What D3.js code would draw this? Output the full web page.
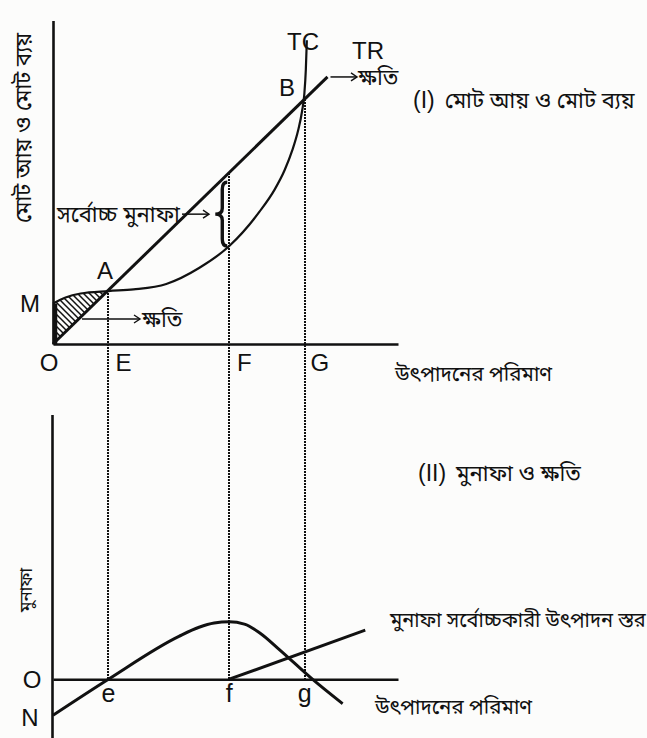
<!DOCTYPE html>
<html>
<head>
<meta charset="utf-8">
<script src="https://cdn.jsdelivr.net/npm/d3@7/dist/d3.min.js"></script>
<style>
  html, body { margin: 0; padding: 0; background: #fcfcfb; }
  svg { display: block; }
  .lat { font-family: "Liberation Sans Narrow", "Arial Narrow", "Liberation Sans", Arial, sans-serif; fill: #111; }
  .bn  { font-family: "Noto Sans Bengali", "Lohit Bengali", "Noto Sans", sans-serif; fill: #111; }
</style>
</head>
<body>
<svg id="chart" width="647" height="738"></svg>
<script>
// Output quantity axis: reference points E (break-even), F (max profit), G (second break-even)
const markLabelsTop = ["E", "F", "G"];
const markLabelsBottom = ["e", "f", "g"];
const markQuantities = [22, 70, 100];

// Total revenue: straight line from the origin
const trQuantity = [0, 109];
const trValue = [0, 109];

// Total cost: starts at fixed cost M, flattens, then rises steeply
const tcQuantity = [0, 5, 11, 22, 32, 45, 58, 70, 82, 88, 92, 95, 97.3, 98.9, 99.8, 100.4, 100.8];
const tcValue = [16.5, 19, 20.6, 21.6, 22.3, 24.5, 31, 40, 54, 63, 71, 79, 87, 95, 102, 112, 124];

// Profit curve (lower panel)
const profitQuantity = [0, 22, 50, 58, 64, 70, 76, 82, 90, 103, 115];
const profitValue = [-14.7, 0, 17.5, 21.2, 22.9, 23.4, 22.5, 19, 12, 0, -10];

// Rising line from f in the lower panel
const riseQuantity = [70, 124];
const riseValue = [0, 20];

const svg = d3.select("#chart");

const x = d3.scaleLinear().domain([0, 137]).range([53, 398]);
const yTop = d3.scaleLinear().domain([0, 132]).range([344, 20.6]);
const yBot = d3.scaleLinear().domain([-24, 108]).range([738, 414.6]);

const ink = "#111";

// Patterns and markers
const defs = svg.append("defs");
const pat = defs.append("pattern")
  .attr("id", "hatch").attr("patternUnits", "userSpaceOnUse")
  .attr("width", 6).attr("height", 6);
pat.append("path")
  .attr("d", "M0,0 L6,6 M-1,5 L1,7 M5,-1 L7,1")
  .attr("stroke", ink).attr("stroke-width", 1.5);

defs.append("marker")
  .attr("id", "arrow").attr("viewBox", "-1 -5 9 10")
  .attr("refX", 6).attr("refY", 0)
  .attr("markerWidth", 9).attr("markerHeight", 10)
  .attr("markerUnits", "userSpaceOnUse")
  .attr("orient", "auto")
  .append("path").attr("d", "M0,-4 L6,0 L0,4")
  .attr("fill", "none").attr("stroke", ink).attr("stroke-width", 1.4);

// ---------- Upper panel ----------
const upper = svg.append("g");

// Shaded loss region between TC and TR up to A
const lossQ = tcQuantity.filter(q => q <= markQuantities[0]);
const lossData = lossQ.map((q, i) => ({ q, tc: tcValue[i], tr: q }));
upper.append("path")
  .datum(lossData)
  .attr("d", d3.area().x(d => x(d.q)).y0(d => yTop(d.tr)).y1(d => yTop(d.tc)).curve(d3.curveMonotoneX))
  .attr("fill", "url(#hatch)").attr("stroke", "none");

// Dotted guides from the curves down to the lower axis
const guideTops = [yTop(markQuantities[0]), yTop(markQuantities[1]), yTop(markQuantities[2])];
markQuantities.forEach((q, i) => {
  const gx = Math.round(x(q));
  svg.append("line")
    .attr("x1", gx).attr("x2", gx)
    .attr("y1", guideTops[i]).attr("y2", yBot(0))
    .attr("stroke", ink).attr("stroke-width", 2)
    .attr("shape-rendering", "crispEdges")
    .attr("stroke-dasharray", "2,1");
});

// Axes
const axTopX = upper.append("g").attr("transform", `translate(0,${yTop(0)})`)
  .call(d3.axisBottom(x).tickValues([]).tickSizeOuter(0));
const axTopY = upper.append("g").attr("transform", `translate(${x(0)},0)`)
  .call(d3.axisLeft(yTop).tickValues([]).tickSizeOuter(0));
[axTopX, axTopY].forEach(g => g.select(".domain").attr("stroke", ink).attr("stroke-width", 2.6));

// TR line
upper.append("path")
  .datum(trQuantity.map((q, i) => [q, trValue[i]]))
  .attr("d", d3.line().x(d => x(d[0])).y(d => yTop(d[1])))
  .attr("fill", "none").attr("stroke", ink).attr("stroke-width", 3);

// TC curve
upper.append("path")
  .datum(tcQuantity.map((q, i) => [q, tcValue[i]]))
  .attr("d", d3.line().x(d => x(d[0])).y(d => yTop(d[1])).curve(d3.curveMonotoneX))
  .attr("fill", "none").attr("stroke", ink).attr("stroke-width", 2.2);

// Loss region edge on the vertical axis (O to M)
upper.append("line")
  .attr("x1", x(0) + 2).attr("x2", x(0) + 2)
  .attr("y1", yTop(0)).attr("y2", yTop(tcValue[0]))
  .attr("stroke", ink).attr("stroke-width", 4.5);

// Brace marking maximum profit at F
const bx = x(markQuantities[1]) - 7;
const b1 = yTop(66), b2 = yTop(tcValue[7]), bm = (b1 + b2) / 2;
upper.append("path")
  .attr("d", `M${bx + 5},${b1} Q${bx},${b1} ${bx},${b1 + 7} L${bx},${bm - 6} Q${bx},${bm} ${bx - 7},${bm} Q${bx},${bm} ${bx},${bm + 6} L${bx},${b2 - 7} Q${bx},${b2} ${bx + 5},${b2}`)
  .attr("fill", "none").attr("stroke", ink).attr("stroke-width", 3.4);

// Arrows
function arrow(g, x1, y1, x2, y2) {
  g.append("line").attr("x1", x1).attr("y1", y1).attr("x2", x2).attr("y2", y2)
    .attr("stroke", ink).attr("stroke-width", 1.5).attr("marker-end", "url(#arrow)");
}
arrow(upper, 182, bm, 209, bm);
arrow(upper, 82, 319, 140, 319);
arrow(upper, x(trQuantity[1]) + 3, yTop(trValue[1]), 357, yTop(trValue[1]));

// Letters
const letters = [
  ["O", 49, 371], ["M", 30, 312], ["A", 105, 279], ["B", 287, 96],
  ["TC", 303, 50], ["TR", 368, 59]
];
letters.forEach(([t, px, py]) => {
  upper.append("text").attr("class", "lat").attr("x", px).attr("y", py)
    .attr("text-anchor", "middle").attr("font-size", 24).text(t);
});
markLabelsTop.forEach((t, i) => {
  upper.append("text").attr("class", "lat")
    .attr("x", x(markQuantities[i]) + 15).attr("y", 371)
    .attr("text-anchor", "middle").attr("font-size", 24).text(t);
});

// Bengali text, upper panel
upper.append("text").attr("class", "bn").attr("font-size", 22)
  .attr("transform", "translate(31,128) rotate(-90)").attr("text-anchor", "middle")
  .text("মোট আয় ও মোট ব্যয়");
upper.append("text").attr("class", "bn").attr("font-size", 22)
  .attr("x", 57).attr("y", bm + 8).text("সর্বোচ্চ মুনাফা");
upper.append("text").attr("class", "bn").attr("font-size", 22)
  .attr("x", 142).attr("y", 327).text("ক্ষতি");
upper.append("text").attr("class", "bn").attr("font-size", 22)
  .attr("x", 358).attr("y", 85).text("ক্ষতি");
const titleI = upper.append("text").attr("class", "bn").attr("font-size", 22)
  .attr("x", 413).attr("y", 108);
titleI.append("tspan").attr("class", "lat").attr("font-size", 23).text("(I)");
titleI.append("tspan").attr("dx", 10).text("মোট আয় ও মোট ব্যয়");
upper.append("text").attr("class", "bn").attr("font-size", 20.5)
  .attr("x", 395).attr("y", 381).text("উৎপাদনের পরিমাণ");

// ---------- Lower panel ----------
const lower = svg.append("g");

const axBotX = lower.append("g").attr("transform", `translate(0,${yBot(0)})`)
  .call(d3.axisBottom(x).tickValues([]).tickSizeOuter(0));
const axBotY = lower.append("g").attr("transform", `translate(${x(0) - 1},0)`)
  .call(d3.axisLeft(yBot).tickValues([]).tickSizeOuter(0));
[axBotX, axBotY].forEach(g => g.select(".domain").attr("stroke", ink).attr("stroke-width", 2.6));

lower.append("path")
  .datum(profitQuantity.map((q, i) => [q, profitValue[i]]))
  .attr("d", d3.line().x(d => x(d[0])).y(d => yBot(d[1])).curve(d3.curveMonotoneX))
  .attr("fill", "none").attr("stroke", ink).attr("stroke-width", 3);

lower.append("path")
  .datum(riseQuantity.map((q, i) => [q, riseValue[i]]))
  .attr("d", d3.line().x(d => x(d[0])).y(d => yBot(d[1])))
  .attr("fill", "none").attr("stroke", ink).attr("stroke-width", 3);

[["O", 32, 688], ["N", 30, 726]].forEach(([t, px, py]) => {
  lower.append("text").attr("class", "lat").attr("x", px).attr("y", py)
    .attr("text-anchor", "middle").attr("font-size", 24).text(t);
});
markLabelsBottom.forEach((t, i) => {
  lower.append("text").attr("class", "lat")
    .attr("x", x(markQuantities[i])).attr("y", 702)
    .attr("text-anchor", "middle").attr("font-size", 25).text(t);
});

lower.append("text").attr("class", "bn").attr("font-size", 17)
  .attr("transform", "translate(32,590) rotate(-90)").attr("text-anchor", "middle")
  .text("মুনাফা");
const titleII = lower.append("text").attr("class", "bn").attr("font-size", 22)
  .attr("x", 418).attr("y", 481);
titleII.append("tspan").attr("class", "lat").attr("font-size", 23).text("(II)");
titleII.append("tspan").attr("dx", 10).text("মুনাফা ও ক্ষতি");
lower.append("text").attr("class", "bn").attr("font-size", 20)
  .attr("x", 390).attr("y", 627).text("মুনাফা সর্বোচ্চকারী উৎপাদন স্তর");
lower.append("text").attr("class", "bn").attr("font-size", 20.5)
  .attr("x", 375).attr("y", 714).text("উৎপাদনের পরিমাণ");
</script>
</body>
</html>
